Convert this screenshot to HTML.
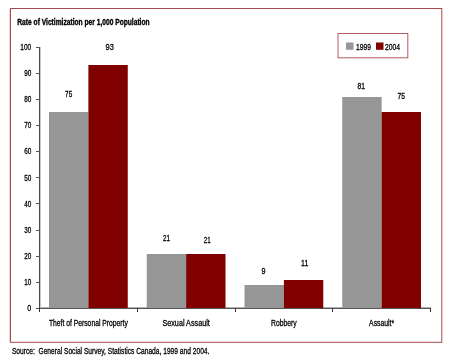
<!DOCTYPE html>
<html><head><meta charset="utf-8"><style>
html,body{margin:0;padding:0;background:#fff;width:450px;height:357px;overflow:hidden}
svg{display:block}
</style></head><body>
<svg width="450" height="357" viewBox="0 0 450 357">
<line x1="9.5" y1="9" x2="9.5" y2="342" stroke="#ecd2d2" stroke-width="1"/>
<rect x="10.5" y="8.5" width="431.3" height="333.8" fill="none" stroke="#a84a4c" stroke-width="1"/>
<rect x="338" y="33.5" width="69.8" height="24.3" fill="none" stroke="#b45a60" stroke-width="1"/>
<rect x="346" y="42.5" width="7.5" height="7.3" fill="#969696"/>
<rect x="376" y="42.5" width="7.5" height="7.3" fill="#800000"/>
<line x1="40" y1="307.5" x2="431" y2="307.5" stroke="#b0b0b0" stroke-width="1"/>
<rect x="49.00" y="112.00" width="39.38" height="196.00" fill="#969696"/>
<rect x="88.38" y="65.00" width="39.38" height="243.00" fill="#800000"/>
<rect x="146.75" y="254.00" width="39.38" height="54.00" fill="#969696"/>
<rect x="186.12" y="254.00" width="39.38" height="54.00" fill="#800000"/>
<rect x="244.50" y="285.00" width="39.38" height="23.00" fill="#969696"/>
<rect x="283.88" y="280.00" width="39.38" height="28.00" fill="#800000"/>
<rect x="342.25" y="97.00" width="39.38" height="211.00" fill="#969696"/>
<rect x="381.62" y="112.00" width="39.38" height="196.00" fill="#800000"/>
<line x1="39.5" y1="47" x2="39.5" y2="312" stroke="#4a4a4a" stroke-width="1"/>
<line x1="40.5" y1="47" x2="40.5" y2="308" stroke="#c8c8c8" stroke-width="1"/>
<line x1="39" y1="308.5" x2="431" y2="308.5" stroke="#555" stroke-width="1"/>
<line x1="36" y1="308.5" x2="40" y2="308.5" stroke="#555" stroke-width="1"/>
<line x1="36" y1="282.5" x2="40" y2="282.5" stroke="#555" stroke-width="1"/>
<line x1="36" y1="256.5" x2="40" y2="256.5" stroke="#555" stroke-width="1"/>
<line x1="36" y1="230.5" x2="40" y2="230.5" stroke="#555" stroke-width="1"/>
<line x1="36" y1="203.5" x2="40" y2="203.5" stroke="#555" stroke-width="1"/>
<line x1="36" y1="177.5" x2="40" y2="177.5" stroke="#555" stroke-width="1"/>
<line x1="36" y1="151.5" x2="40" y2="151.5" stroke="#555" stroke-width="1"/>
<line x1="36" y1="125.5" x2="40" y2="125.5" stroke="#555" stroke-width="1"/>
<line x1="36" y1="99.5" x2="40" y2="99.5" stroke="#555" stroke-width="1"/>
<line x1="36" y1="73.5" x2="40" y2="73.5" stroke="#555" stroke-width="1"/>
<line x1="36" y1="47.5" x2="40" y2="47.5" stroke="#555" stroke-width="1"/>
<line x1="39.5" y1="308" x2="39.5" y2="312" stroke="#333" stroke-width="1"/>
<line x1="137.5" y1="308" x2="137.5" y2="312" stroke="#333" stroke-width="1"/>
<line x1="235.5" y1="308" x2="235.5" y2="312" stroke="#333" stroke-width="1"/>
<line x1="332.5" y1="308" x2="332.5" y2="312" stroke="#333" stroke-width="1"/>
<line x1="430.5" y1="308" x2="430.5" y2="312" stroke="#333" stroke-width="1"/>
<g style="will-change:transform">
<text x="27.30" y="311.10" font-size="9" font-family="Liberation Sans, sans-serif" stroke="#000" stroke-width="0.3" textLength="4.00" lengthAdjust="spacingAndGlyphs" xml:space="preserve" >0</text>
<text x="24.20" y="284.99" font-size="9" font-family="Liberation Sans, sans-serif" stroke="#000" stroke-width="0.3" textLength="7.10" lengthAdjust="spacingAndGlyphs" xml:space="preserve" >10</text>
<text x="24.20" y="258.88" font-size="9" font-family="Liberation Sans, sans-serif" stroke="#000" stroke-width="0.3" textLength="7.10" lengthAdjust="spacingAndGlyphs" xml:space="preserve" >20</text>
<text x="24.20" y="232.77" font-size="9" font-family="Liberation Sans, sans-serif" stroke="#000" stroke-width="0.3" textLength="7.10" lengthAdjust="spacingAndGlyphs" xml:space="preserve" >30</text>
<text x="24.20" y="206.66" font-size="9" font-family="Liberation Sans, sans-serif" stroke="#000" stroke-width="0.3" textLength="7.10" lengthAdjust="spacingAndGlyphs" xml:space="preserve" >40</text>
<text x="24.20" y="180.55" font-size="9" font-family="Liberation Sans, sans-serif" stroke="#000" stroke-width="0.3" textLength="7.10" lengthAdjust="spacingAndGlyphs" xml:space="preserve" >50</text>
<text x="24.20" y="154.44" font-size="9" font-family="Liberation Sans, sans-serif" stroke="#000" stroke-width="0.3" textLength="7.10" lengthAdjust="spacingAndGlyphs" xml:space="preserve" >60</text>
<text x="24.20" y="128.33" font-size="9" font-family="Liberation Sans, sans-serif" stroke="#000" stroke-width="0.3" textLength="7.10" lengthAdjust="spacingAndGlyphs" xml:space="preserve" >70</text>
<text x="24.20" y="102.22" font-size="9" font-family="Liberation Sans, sans-serif" stroke="#000" stroke-width="0.3" textLength="7.10" lengthAdjust="spacingAndGlyphs" xml:space="preserve" >80</text>
<text x="24.20" y="76.11" font-size="9" font-family="Liberation Sans, sans-serif" stroke="#000" stroke-width="0.3" textLength="7.10" lengthAdjust="spacingAndGlyphs" xml:space="preserve" >90</text>
<text x="20.30" y="50.00" font-size="9" font-family="Liberation Sans, sans-serif" stroke="#000" stroke-width="0.3" textLength="11.00" lengthAdjust="spacingAndGlyphs" xml:space="preserve" >100</text>
<text x="65.10" y="97.00" font-size="9" font-family="Liberation Sans, sans-serif" stroke="#000" stroke-width="0.3" textLength="7.10" lengthAdjust="spacingAndGlyphs" xml:space="preserve" >75</text>
<text x="105.50" y="50.30" font-size="9" font-family="Liberation Sans, sans-serif" stroke="#000" stroke-width="0.3" textLength="8.30" lengthAdjust="spacingAndGlyphs" xml:space="preserve" >93</text>
<text x="162.90" y="241.00" font-size="9" font-family="Liberation Sans, sans-serif" stroke="#000" stroke-width="0.3" textLength="7.00" lengthAdjust="spacingAndGlyphs" xml:space="preserve" >21</text>
<text x="203.80" y="242.70" font-size="9" font-family="Liberation Sans, sans-serif" stroke="#000" stroke-width="0.3" textLength="6.80" lengthAdjust="spacingAndGlyphs" xml:space="preserve" >21</text>
<text x="261.40" y="273.70" font-size="9" font-family="Liberation Sans, sans-serif" stroke="#000" stroke-width="0.3" textLength="4.00" lengthAdjust="spacingAndGlyphs" xml:space="preserve" >9</text>
<text x="301.00" y="265.70" font-size="9" font-family="Liberation Sans, sans-serif" stroke="#000" stroke-width="0.3" textLength="7.30" lengthAdjust="spacingAndGlyphs" xml:space="preserve" >11</text>
<text x="357.60" y="89.00" font-size="9" font-family="Liberation Sans, sans-serif" stroke="#000" stroke-width="0.3" textLength="7.40" lengthAdjust="spacingAndGlyphs" xml:space="preserve" >81</text>
<text x="397.60" y="99.00" font-size="9" font-family="Liberation Sans, sans-serif" stroke="#000" stroke-width="0.3" textLength="7.40" lengthAdjust="spacingAndGlyphs" xml:space="preserve" >75</text>
<text x="48.88" y="326.20" font-size="9" font-family="Liberation Sans, sans-serif" stroke="#000" stroke-width="0.3" textLength="79.00" lengthAdjust="spacingAndGlyphs" xml:space="preserve" >Theft of Personal Property</text>
<text x="162.43" y="326.20" font-size="9" font-family="Liberation Sans, sans-serif" stroke="#000" stroke-width="0.3" textLength="47.40" lengthAdjust="spacingAndGlyphs" xml:space="preserve" >Sexual Assault</text>
<text x="270.98" y="326.20" font-size="9" font-family="Liberation Sans, sans-serif" stroke="#000" stroke-width="0.3" textLength="25.80" lengthAdjust="spacingAndGlyphs" xml:space="preserve" >Robbery</text>
<text x="369.12" y="326.20" font-size="9" font-family="Liberation Sans, sans-serif" stroke="#000" stroke-width="0.3" textLength="25.00" lengthAdjust="spacingAndGlyphs" xml:space="preserve" >Assault*</text>
<text x="355.90" y="50.00" font-size="9" font-family="Liberation Sans, sans-serif" stroke="#000" stroke-width="0.3" textLength="15.00" lengthAdjust="spacingAndGlyphs" xml:space="preserve" >1999</text>
<text x="385.00" y="50.00" font-size="9" font-family="Liberation Sans, sans-serif" stroke="#000" stroke-width="0.3" textLength="15.00" lengthAdjust="spacingAndGlyphs" xml:space="preserve" >2004</text>
<text x="17.3" y="25.3" font-size="8.5" font-weight="bold" font-family="Liberation Sans, sans-serif" stroke="#000" stroke-width="0.35" textLength="132.3" lengthAdjust="spacingAndGlyphs">Rate of Victimization per 1,000 Population</text>
<text x="11.90" y="354.00" font-size="9" font-family="Liberation Sans, sans-serif" stroke="#000" stroke-width="0.3" textLength="197.50" lengthAdjust="spacingAndGlyphs" xml:space="preserve" >Source:  General Social Survey, Statistics Canada, 1999 and 2004.</text>
</g>
</svg>
</body></html>
